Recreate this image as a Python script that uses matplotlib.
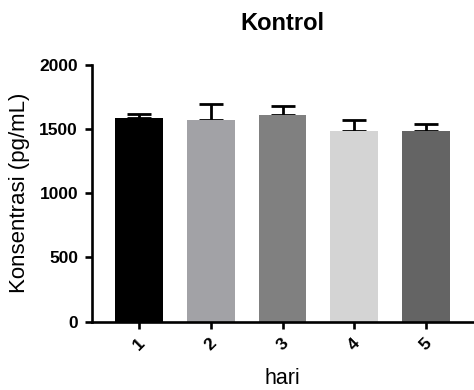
import matplotlib
matplotlib.use("Agg")
import matplotlib.pyplot as plt

# data
days = ["1", "2", "3", "4", "5"]
means = [1590, 1570, 1610, 1485, 1485]
sem = [27, 123, 67, 83, 52]
colors = ["#000000", "#a2a2a6", "#808080", "#d4d4d4", "#646464"]

plt.rcParams["font.family"] = ["Liberation Sans", "DejaVu Sans"]

fig = plt.figure(figsize=(4.74, 3.9), dpi=100)
ax = fig.add_axes([0.194, 0.1756, 0.804, 0.6577])

x = list(range(1, len(days) + 1))
ax.bar(x, means, width=0.667, color=colors, zorder=2)
ax.errorbar(x, means, yerr=[[0] * len(sem), sem], fmt="none", ecolor="black",
            elinewidth=2, capsize=8.6, capthick=2, zorder=1)

ax.set_xlim(0.34, 5.66)
ax.set_ylim(0, 2000)
ax.set_yticks([0, 500, 1000, 1500, 2000])
ax.set_xticks(x)
ax.set_xticklabels(days, rotation=45, ha="center", va="top")

for side in ["top", "right"]:
    ax.spines[side].set_visible(False)
for side in ["left", "bottom"]:
    ax.spines[side].set_linewidth(1.9)

ax.tick_params(axis="both", direction="out", length=5, width=1.9, labelsize=12.5, pad=5)
for lbl in ax.get_xticklabels() + ax.get_yticklabels():
    lbl.set_fontweight("bold")

ax.set_ylabel("Konsentrasi (pg/mL)", fontsize=16, labelpad=7)
ax.set_xlabel("hari", fontsize=15.5, labelpad=11)
ax.set_title("Kontrol", fontsize=17, fontweight="bold", pad=25)

fig.savefig("out.png", dpi=100)
